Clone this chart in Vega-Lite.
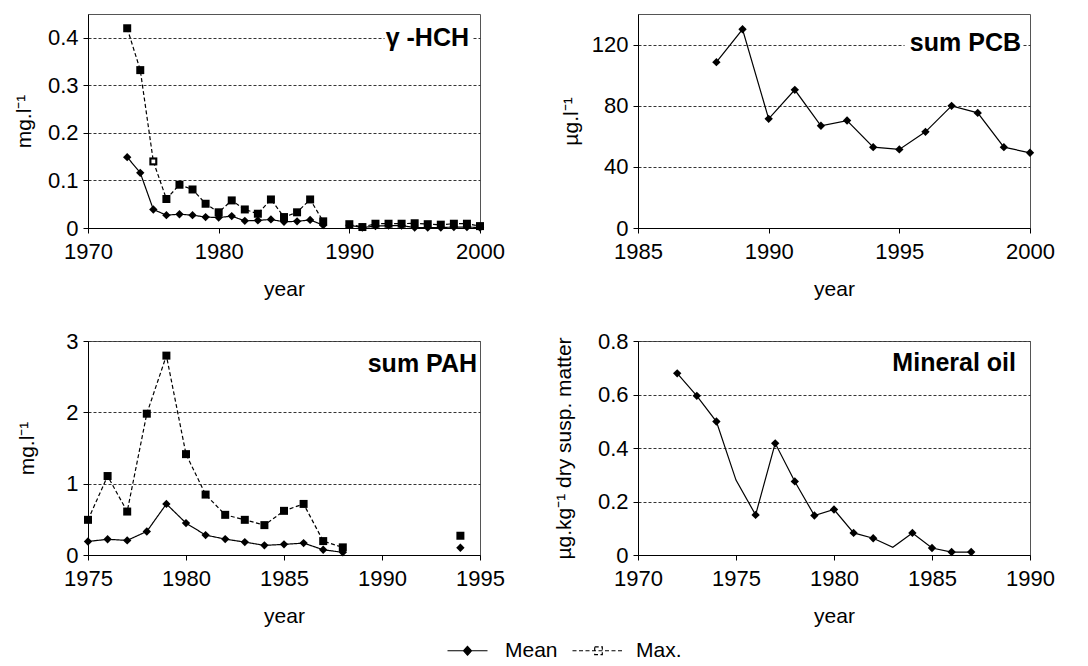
{
  "$schema": "https://vega.github.io/schema/vega-lite/v6.json",
  "background": "white",
  "padding": {"left": 12, "top": 13, "right": 5, "bottom": 5},
  "columns": 2,
  "spacing": {"row": 29, "column": 47},
  "datasets": {
    "hch": [
      {"year": 1973, "series": "Mean", "value": 0.149, "seg": 1},
      {"year": 1974, "series": "Mean", "value": 0.116, "seg": 1},
      {"year": 1975, "series": "Mean", "value": 0.039, "seg": 1},
      {"year": 1976, "series": "Mean", "value": 0.027, "seg": 1},
      {"year": 1977, "series": "Mean", "value": 0.029, "seg": 1},
      {"year": 1978, "series": "Mean", "value": 0.027, "seg": 1},
      {"year": 1979, "series": "Mean", "value": 0.023, "seg": 1},
      {"year": 1980, "series": "Mean", "value": 0.022, "seg": 1},
      {"year": 1981, "series": "Mean", "value": 0.025, "seg": 1},
      {"year": 1982, "series": "Mean", "value": 0.015, "seg": 1},
      {"year": 1983, "series": "Mean", "value": 0.016, "seg": 1},
      {"year": 1984, "series": "Mean", "value": 0.018, "seg": 1},
      {"year": 1985, "series": "Mean", "value": 0.013, "seg": 1},
      {"year": 1986, "series": "Mean", "value": 0.014, "seg": 1},
      {"year": 1987, "series": "Mean", "value": 0.017, "seg": 1},
      {"year": 1988, "series": "Mean", "value": 0.006, "seg": 1},
      {"year": 1990, "series": "Mean", "value": 0.006, "seg": 2},
      {"year": 1991, "series": "Mean", "value": 0.001, "seg": 2},
      {"year": 1992, "series": "Mean", "value": 0.004, "seg": 2},
      {"year": 1993, "series": "Mean", "value": 0.005, "seg": 2},
      {"year": 1994, "series": "Mean", "value": 0.005, "seg": 2},
      {"year": 1995, "series": "Mean", "value": 0.001, "seg": 2},
      {"year": 1996, "series": "Mean", "value": 0.001, "seg": 2},
      {"year": 1997, "series": "Mean", "value": 0.001, "seg": 2},
      {"year": 1998, "series": "Mean", "value": 0.002, "seg": 2},
      {"year": 1999, "series": "Mean", "value": 0.002, "seg": 2},
      {"year": 2000, "series": "Mean", "value": 0.001, "seg": 2},
      {"year": 1973, "series": "Max.", "value": 0.42, "seg": 1},
      {"year": 1974, "series": "Max.", "value": 0.332, "seg": 1},
      {"year": 1975, "series": "Max.", "value": 0.14, "seg": 1},
      {"year": 1976, "series": "Max.", "value": 0.061, "seg": 1},
      {"year": 1977, "series": "Max.", "value": 0.091, "seg": 1},
      {"year": 1978, "series": "Max.", "value": 0.081, "seg": 1},
      {"year": 1979, "series": "Max.", "value": 0.051, "seg": 1},
      {"year": 1980, "series": "Max.", "value": 0.033, "seg": 1},
      {"year": 1981, "series": "Max.", "value": 0.058, "seg": 1},
      {"year": 1982, "series": "Max.", "value": 0.039, "seg": 1},
      {"year": 1983, "series": "Max.", "value": 0.030, "seg": 1},
      {"year": 1984, "series": "Max.", "value": 0.060, "seg": 1},
      {"year": 1985, "series": "Max.", "value": 0.023, "seg": 1},
      {"year": 1986, "series": "Max.", "value": 0.033, "seg": 1},
      {"year": 1987, "series": "Max.", "value": 0.060, "seg": 1},
      {"year": 1988, "series": "Max.", "value": 0.014, "seg": 1},
      {"year": 1990, "series": "Max.", "value": 0.008, "seg": 2},
      {"year": 1991, "series": "Max.", "value": 0.002, "seg": 2},
      {"year": 1992, "series": "Max.", "value": 0.009, "seg": 2},
      {"year": 1993, "series": "Max.", "value": 0.009, "seg": 2},
      {"year": 1994, "series": "Max.", "value": 0.009, "seg": 2},
      {"year": 1995, "series": "Max.", "value": 0.010, "seg": 2},
      {"year": 1996, "series": "Max.", "value": 0.008, "seg": 2},
      {"year": 1997, "series": "Max.", "value": 0.007, "seg": 2},
      {"year": 1998, "series": "Max.", "value": 0.009, "seg": 2},
      {"year": 1999, "series": "Max.", "value": 0.009, "seg": 2},
      {"year": 2000, "series": "Max.", "value": 0.004, "seg": 2}
    ],
    "pcb": [
      {"year": 1988, "value": 108.5},
      {"year": 1989, "value": 130.0},
      {"year": 1990, "value": 71.4},
      {"year": 1991, "value": 90.4},
      {"year": 1992, "value": 66.9},
      {"year": 1993, "value": 70.3},
      {"year": 1994, "value": 52.9},
      {"year": 1995, "value": 51.4},
      {"year": 1996, "value": 62.9},
      {"year": 1997, "value": 79.9},
      {"year": 1998, "value": 75.3},
      {"year": 1999, "value": 52.9},
      {"year": 2000, "value": 49.2}
    ],
    "pah": [
      {"year": 1975, "series": "Mean", "value": 0.19, "seg": 1},
      {"year": 1976, "series": "Mean", "value": 0.22, "seg": 1},
      {"year": 1977, "series": "Mean", "value": 0.205, "seg": 1},
      {"year": 1978, "series": "Mean", "value": 0.33, "seg": 1},
      {"year": 1979, "series": "Mean", "value": 0.716, "seg": 1},
      {"year": 1980, "series": "Mean", "value": 0.447, "seg": 1},
      {"year": 1981, "series": "Mean", "value": 0.279, "seg": 1},
      {"year": 1982, "series": "Mean", "value": 0.223, "seg": 1},
      {"year": 1983, "series": "Mean", "value": 0.181, "seg": 1},
      {"year": 1984, "series": "Mean", "value": 0.135, "seg": 1},
      {"year": 1985, "series": "Mean", "value": 0.149, "seg": 1},
      {"year": 1986, "series": "Mean", "value": 0.167, "seg": 1},
      {"year": 1987, "series": "Mean", "value": 0.074, "seg": 1},
      {"year": 1988, "series": "Mean", "value": 0.037, "seg": 1},
      {"year": 1994, "series": "Mean", "value": 0.102, "seg": 2},
      {"year": 1975, "series": "Max.", "value": 0.493, "seg": 1},
      {"year": 1976, "series": "Max.", "value": 1.107, "seg": 1},
      {"year": 1977, "series": "Max.", "value": 0.609, "seg": 1},
      {"year": 1978, "series": "Max.", "value": 1.981, "seg": 1},
      {"year": 1979, "series": "Max.", "value": 2.795, "seg": 1},
      {"year": 1980, "series": "Max.", "value": 1.414, "seg": 1},
      {"year": 1981, "series": "Max.", "value": 0.847, "seg": 1},
      {"year": 1982, "series": "Max.", "value": 0.563, "seg": 1},
      {"year": 1983, "series": "Max.", "value": 0.493, "seg": 1},
      {"year": 1984, "series": "Max.", "value": 0.419, "seg": 1},
      {"year": 1985, "series": "Max.", "value": 0.619, "seg": 1},
      {"year": 1986, "series": "Max.", "value": 0.716, "seg": 1},
      {"year": 1987, "series": "Max.", "value": 0.195, "seg": 1},
      {"year": 1988, "series": "Max.", "value": 0.107, "seg": 1},
      {"year": 1994, "series": "Max.", "value": 0.27, "seg": 2}
    ],
    "oil": [
      {"year": 1972, "value": 0.679},
      {"year": 1973, "value": 0.595},
      {"year": 1974, "value": 0.499},
      {"year": 1975, "value": 0.28},
      {"year": 1976, "value": 0.15},
      {"year": 1977, "value": 0.4175},
      {"year": 1978, "value": 0.275},
      {"year": 1979, "value": 0.1475},
      {"year": 1980, "value": 0.17},
      {"year": 1981, "value": 0.0825},
      {"year": 1982, "value": 0.0625},
      {"year": 1983, "value": 0.029},
      {"year": 1984, "value": 0.0825},
      {"year": 1985, "value": 0.026},
      {"year": 1986, "value": 0.011},
      {"year": 1987, "value": 0.011}
    ]
  },
  "config": {
    "font": "Liberation Sans",
    "view": {"stroke": "#555", "strokeWidth": 1},
    "axis": {
      "labelFont": "Liberation Sans", "labelFontSize": 22, "labelColor": "black",
      "titleFont": "Liberation Sans", "titleFontSize": 21, "titleFontWeight": "normal", "titleColor": "black",
      "domainColor": "black", "tickColor": "black", "tickSize": 5,
      "gridColor": "#333", "gridDash": [3, 2], "gridWidth": 1
    },
    "axisX": {"grid": false, "labelPadding": 8, "titlePadding": 16, "format": "d", "labelFlush": false},
    "axisY": {"grid": true, "labelPadding": 5},
    "text": {"fill": "black", "strokeWidth": 0},
    "legend": {
      "orient": "none", "legendX": 369, "legendY": 626, "direction": "horizontal", "title": null,
      "labelFont": "Liberation Sans", "labelFontSize": 21, "labelColor": "black",
      "symbolSize": 64, "labelOffset": 27, "columnPadding": 12, "padding": 0,
      "symbolStrokeColor": "black", "symbolStrokeWidth": 1.2
    }
  },
  "resolve": {"scale": {"strokeDash": "shared"}},
  "concat": [
    {
      "width": 392, "height": 214,
      "data": {"name": "hch"},
      "layer": [
        {
          "mark": {"type": "line", "color": "black", "strokeWidth": 1.2},
          "encoding": {
            "x": {"field": "year", "type": "quantitative", "scale": {"domain": [1970, 2000], "nice": false}, "axis": {"values": [1970, 1980, 1990, 2000], "title": "year"}},
            "y": {"field": "value", "type": "quantitative", "scale": {"domain": [0, 0.45], "nice": false}, "axis": {"values": [0, 0.05, 0.1, 0.15, 0.2, 0.25, 0.3, 0.35, 0.4, 0.45], "labelExpr": "round(datum.value*100) % 10 == 0 ? format(datum.value, '~g') : ''", "title": "mg.l⁻¹", "titlePadding": 13}},
            "strokeDash": {"field": "series", "type": "nominal", "scale": {"domain": ["Mean", "Max."], "range": [[1, 0], [4, 2.5]]},
              "legend": {"encode": {"symbols": {"update": {
                "shape": {"signal": "datum.value === 'Mean' ? 'M-5,0H5M0,-1.1L1,0L0,1.1L-1,0Z' : 'M-6.5,0H6.5M-0.95,-0.95H0.95V0.95H-0.95Z'"},
                "fill": {"signal": "datum.value === 'Mean' ? 'black' : 'white'"},
                "stroke": {"value": "black"}
              }}}}},
            "detail": {"field": "seg", "type": "nominal"}
          }
        },
        {
          "transform": [{"filter": "datum.series == 'Mean'"}],
          "mark": {"type": "point", "filled": true, "color": "black", "size": 70, "opacity": 1, "shape": "diamond"},
          "encoding": {
            "x": {"field": "year", "type": "quantitative"},
            "y": {"field": "value", "type": "quantitative"}
          }
        },
        {
          "transform": [{"filter": "datum.series == 'Max.'"}],
          "mark": {"type": "point", "filled": true, "color": "black", "size": 64, "opacity": 1, "shape": "square"},
          "encoding": {
            "x": {"field": "year", "type": "quantitative"},
            "y": {"field": "value", "type": "quantitative"}
          }
        },
        {
          "transform": [{"filter": "datum.year == 1975 && datum.series == 'Max.'"}],
          "mark": {"type": "point", "filled": true, "color": "white", "shape": "square", "size": 14, "opacity": 1},
          "encoding": {
            "x": {"field": "year", "type": "quantitative"},
            "y": {"field": "value", "type": "quantitative"}
          }
        },
        {
          "data": {"values": [{}]},
          "mark": {"type": "rect", "color": "white"},
          "encoding": {"x": {"datum": 1992.7}, "x2": {"datum": 1999.4}, "y": {"datum": 0.39}, "y2": {"datum": 0.41}}
        },
        {
          "data": {"values": [{}]},
          "mark": {"type": "text", "text": "γ -HCH", "align": "right", "baseline": "middle", "fontSize": 25, "fontWeight": "bold", "font": "Liberation Sans", "fill": "black", "dx": -11},
          "encoding": {"x": {"datum": 2000}, "y": {"datum": 0.4}}
        }
      ]
    },
    {
      "width": 392, "height": 214,
      "data": {"name": "pcb"},
      "layer": [
        {
          "mark": {"type": "line", "color": "black", "strokeWidth": 1.2},
          "encoding": {
            "x": {"field": "year", "type": "quantitative", "scale": {"domain": [1985, 2000], "nice": false}, "axis": {"values": [1985, 1990, 1995, 2000], "title": "year"}},
            "y": {"field": "value", "type": "quantitative", "scale": {"domain": [0, 140], "nice": false}, "axis": {"values": [0, 20, 40, 60, 80, 100, 120, 140], "labelExpr": "datum.value % 40 == 0 ? datum.label : ''", "title": "µg.l⁻¹", "titlePadding": 10}}
          }
        },
        {
          "mark": {"type": "point", "filled": true, "color": "black", "size": 70, "opacity": 1, "shape": "diamond"},
          "encoding": {
            "x": {"field": "year", "type": "quantitative"},
            "y": {"field": "value", "type": "quantitative"}
          }
        },
        {
          "data": {"values": [{}]},
          "mark": {"type": "rect", "color": "white"},
          "encoding": {"x": {"datum": 1995.2}, "x2": {"datum": 1999.7}, "y": {"datum": 118}, "y2": {"datum": 122}}
        },
        {
          "data": {"values": [{}]},
          "mark": {"type": "text", "text": "sum PCB", "align": "right", "baseline": "middle", "fontSize": 25, "fontWeight": "bold", "font": "Liberation Sans", "fill": "black", "dx": -9},
          "encoding": {"x": {"datum": 2000}, "y": {"datum": 121}}
        }
      ]
    },
    {
      "width": 392, "height": 214,
      "data": {"name": "pah"},
      "layer": [
        {
          "mark": {"type": "line", "color": "black", "strokeWidth": 1.2},
          "encoding": {
            "x": {"field": "year", "type": "quantitative", "scale": {"domain": [1975, 1995], "nice": false}, "axis": {"values": [1975, 1980, 1985, 1990, 1995], "title": "year"}},
            "y": {"field": "value", "type": "quantitative", "scale": {"domain": [0, 3], "nice": false}, "axis": {"values": [0, 0.5, 1, 1.5, 2, 2.5, 3], "labelExpr": "datum.value % 1 == 0 ? format(datum.value, 'd') : ''", "title": "mg.l⁻¹", "titlePadding": 28}},
            "strokeDash": {"field": "series", "type": "nominal", "scale": {"domain": ["Mean", "Max."], "range": [[1, 0], [4, 2.5]]}},
            "detail": {"field": "seg", "type": "nominal"}
          }
        },
        {
          "transform": [{"filter": "datum.series == 'Mean'"}],
          "mark": {"type": "point", "filled": true, "color": "black", "size": 70, "opacity": 1, "shape": "diamond"},
          "encoding": {
            "x": {"field": "year", "type": "quantitative"},
            "y": {"field": "value", "type": "quantitative"}
          }
        },
        {
          "transform": [{"filter": "datum.series == 'Max.'"}],
          "mark": {"type": "point", "filled": true, "color": "black", "size": 64, "opacity": 1, "shape": "square"},
          "encoding": {
            "x": {"field": "year", "type": "quantitative"},
            "y": {"field": "value", "type": "quantitative"}
          }
        },
        {
          "data": {"values": [{}]},
          "mark": {"type": "text", "text": "sum PAH", "align": "right", "baseline": "middle", "fontSize": 25, "fontWeight": "bold", "font": "Liberation Sans", "fill": "black", "dx": -3},
          "encoding": {"x": {"datum": 1995}, "y": {"datum": 2.675}}
        }
      ]
    },
    {
      "width": 392, "height": 214,
      "data": {"name": "oil"},
      "layer": [
        {
          "mark": {"type": "line", "color": "black", "strokeWidth": 1.2},
          "encoding": {
            "x": {"field": "year", "type": "quantitative", "scale": {"domain": [1970, 1990], "nice": false}, "axis": {"values": [1970, 1975, 1980, 1985, 1990], "title": "year"}},
            "y": {"field": "value", "type": "quantitative", "scale": {"domain": [0, 0.8], "nice": false}, "axis": {"values": [0, 0.2, 0.4, 0.6, 0.8], "labelExpr": "format(datum.value, '~g')", "title": "µg.kg⁻¹ dry susp. matter", "titlePadding": 23}}
          }
        },
        {
          "transform": [{"filter": "datum.year != 1975 && datum.year != 1983"}],
          "mark": {"type": "point", "filled": true, "color": "black", "size": 70, "opacity": 1, "shape": "diamond"},
          "encoding": {
            "x": {"field": "year", "type": "quantitative"},
            "y": {"field": "value", "type": "quantitative"}
          }
        },
        {
          "data": {"values": [{}]},
          "mark": {"type": "text", "text": "Mineral oil", "align": "right", "baseline": "middle", "fontSize": 25, "fontWeight": "bold", "font": "Liberation Sans", "fill": "black", "dx": -14},
          "encoding": {"x": {"datum": 1990}, "y": {"datum": 0.717}}
        }
      ]
    }
  ]
}
